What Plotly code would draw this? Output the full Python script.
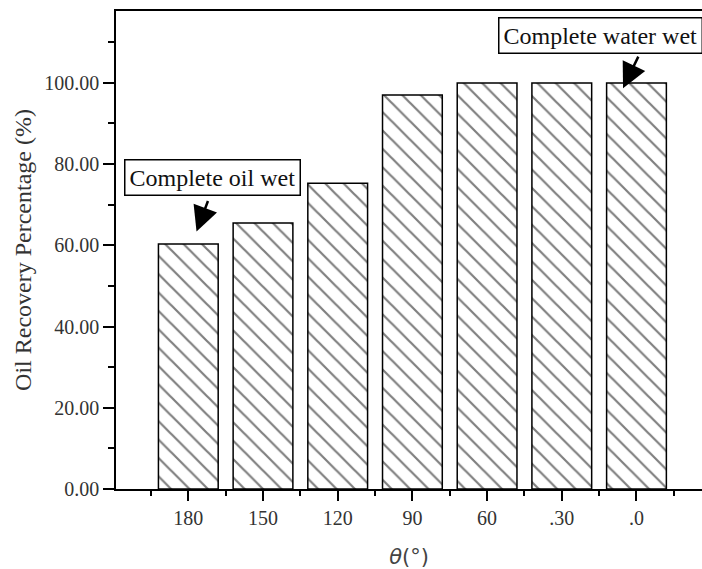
import plotly.graph_objects as go

categories = ["180", "150", "120", "90", "60", ".30", ".0"]
recovery = [60.3, 65.5, 75.3, 97.0, 100.0, 100.0, 100.0]
positions = list(range(len(categories)))

fig = go.Figure()
fig.add_trace(go.Bar(
    x=positions, y=recovery, width=0.8,
    marker=dict(color="white",
                line=dict(color="black", width=1.5),
                pattern=dict(shape="\\", fgcolor="black", bgcolor="white",
                             size=13, solidity=0.17)),
    showlegend=False,
))

serif = "Liberation Serif"
fig.update_layout(
    width=702, height=569,
    margin=dict(l=116, r=0, t=11, b=80),
    paper_bgcolor="white", plot_bgcolor="white",
    bargap=0.2,
    xaxis=dict(
        range=[-0.968, 6.877],
        tickmode="array", tickvals=positions, ticktext=categories,
        showline=True, linecolor="black", linewidth=1.5, mirror=True,
        ticks="outside", ticklen=10, tickwidth=1.5, tickcolor="black",
        minor=dict(tick0=0.5, dtick=1, ticks="outside", ticklen=5,
                   tickwidth=1.5, tickcolor="black"),
        showgrid=False, zeroline=False,
        tickfont=dict(family=serif, size=20, color="#333"),
        title=dict(text="<i>θ</i>(°)",
                   font=dict(family="DejaVu Sans", size=21, color="#444"),
                   standoff=22),
    ),
    yaxis=dict(
        range=[0, 117.7],
        tickmode="linear", tick0=0, dtick=20, tickformat=".2f",
        showline=True, linecolor="black", linewidth=1.5, mirror=False,
        ticks="outside", ticklen=11, tickwidth=1.5, tickcolor="black",
        minor=dict(tick0=10, dtick=20, ticks="outside", ticklen=6,
                   tickwidth=1.5, tickcolor="black"),
        showgrid=False, zeroline=False,
        tickfont=dict(family=serif, size=20, color="#333"),
        title=dict(text="Oil Recovery Percentage (%)",
                   font=dict(family=serif, size=24, color="#333"),
                   standoff=6),
    ),
)

# boxed labels
fig.add_annotation(x=0.324, y=76.8, xref="x", yref="y", text="Complete oil wet",
                   showarrow=False, font=dict(family=serif, size=24, color="#111"),
                   bordercolor="black", borderwidth=1.5, borderpad=4,
                   bgcolor="white")
fig.add_annotation(x=4.142, y=111.6, xref="x", yref="y", text="Complete water wet",
                   xanchor="left", showarrow=False,
                   font=dict(family=serif, size=24, color="#111"),
                   bordercolor="black", borderwidth=1.5, borderpad=4,
                   bgcolor="white")
# arrows
fig.add_annotation(x=0.11, y=63.4, xref="x", yref="y", text="",
                   showarrow=True, ax=12, ay=-32, arrowhead=2, arrowsize=2,
                   arrowwidth=2.5, arrowcolor="black")
fig.add_annotation(x=5.82, y=98.7, xref="x", yref="y", text="",
                   showarrow=True, ax=16, ay=-33, arrowhead=2, arrowsize=2,
                   arrowwidth=2.5, arrowcolor="black")

fig.write_html("out.html")
